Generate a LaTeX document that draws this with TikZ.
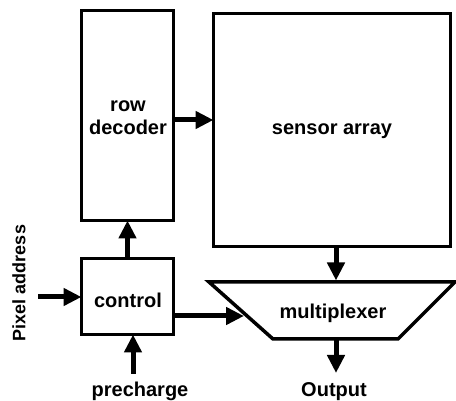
\documentclass[tikz,border=0pt]{standalone}
\usepackage{fontspec}
\setmainfont{Liberation Sans}
\usetikzlibrary{arrows.meta}
\begin{document}
\begin{tikzpicture}[x=1pt,y=-1pt,
  blockbox/.style={draw=black,line width=3pt,fill=white,inner sep=0pt,outer sep=0pt},
  lbl/.style={font=\bfseries\fontsize{20}{23}\selectfont,align=center,inner sep=0pt},
  arr/.style={line width=5pt,-{Triangle[length=18pt,width=17pt]}}]
\fill[white] (0,0) rectangle (456,401);
\useasboundingbox (0,0) rectangle (456,401);
% blocks
\node[blockbox,minimum width=92pt,minimum height=210pt] (rowdec) at (127.5,115.5) {};
\node[blockbox,minimum width=92pt,minimum height=76pt] (control) at (127.5,296.5) {};
\node[blockbox,minimum width=237pt,minimum height=233pt] (sensor) at (332,130) {};
% multiplexer trapezoid
\coordinate (mtl) at (209,282);
\coordinate (mtr) at (455,282);
\coordinate (mbr) at (398,339);
\coordinate (mbl) at (273,339);
\draw[line width=3.5pt,line join=miter] (mtl) -- (mtr) -- (mbr) -- (mbl) -- cycle;
\coordinate (muxtop) at (336,280.5);
\coordinate (muxbot) at (336,340.5);
\coordinate (muxleft) at (244,316);
% labels
\node[lbl] (rowdectxt) at (128,118) {row\\decoder};
\node[lbl] (sensortxt) at (332,131) {sensor array};
\node[lbl] (controltxt) at (128,300) {control};
\node[lbl] (muxtxt) at (333,313) {multiplexer};
\node[lbl,anchor=base] (pre) at (140,396) {precharge};
\node[lbl,anchor=base] (out) at (334,396) {Output};
\node[lbl,font=\bfseries\fontsize{18}{21}\selectfont,rotate=90] (pix) at (19,283) {Pixel address};
% free ends
\coordinate (pixstart) at (38,297);
\coordinate (prestart) at (133,374);
\coordinate (outend) at (336,373);
% connectors
\draw[arr] (rowdec.east |- 0,120) -- (sensor.west |- 0,120);
\draw[arr] (control.north) -- (rowdec.south);
\draw[arr] (pixstart) -- (control.west |- pixstart);
\draw[arr] (prestart) -- (control.south -| prestart);
\draw[arr] (control.east |- muxleft) -- (muxleft);
\draw[arr] (sensor.south -| muxtop) -- (muxtop);
\draw[arr] (muxbot) -- (outend);
\end{tikzpicture}
\end{document}
